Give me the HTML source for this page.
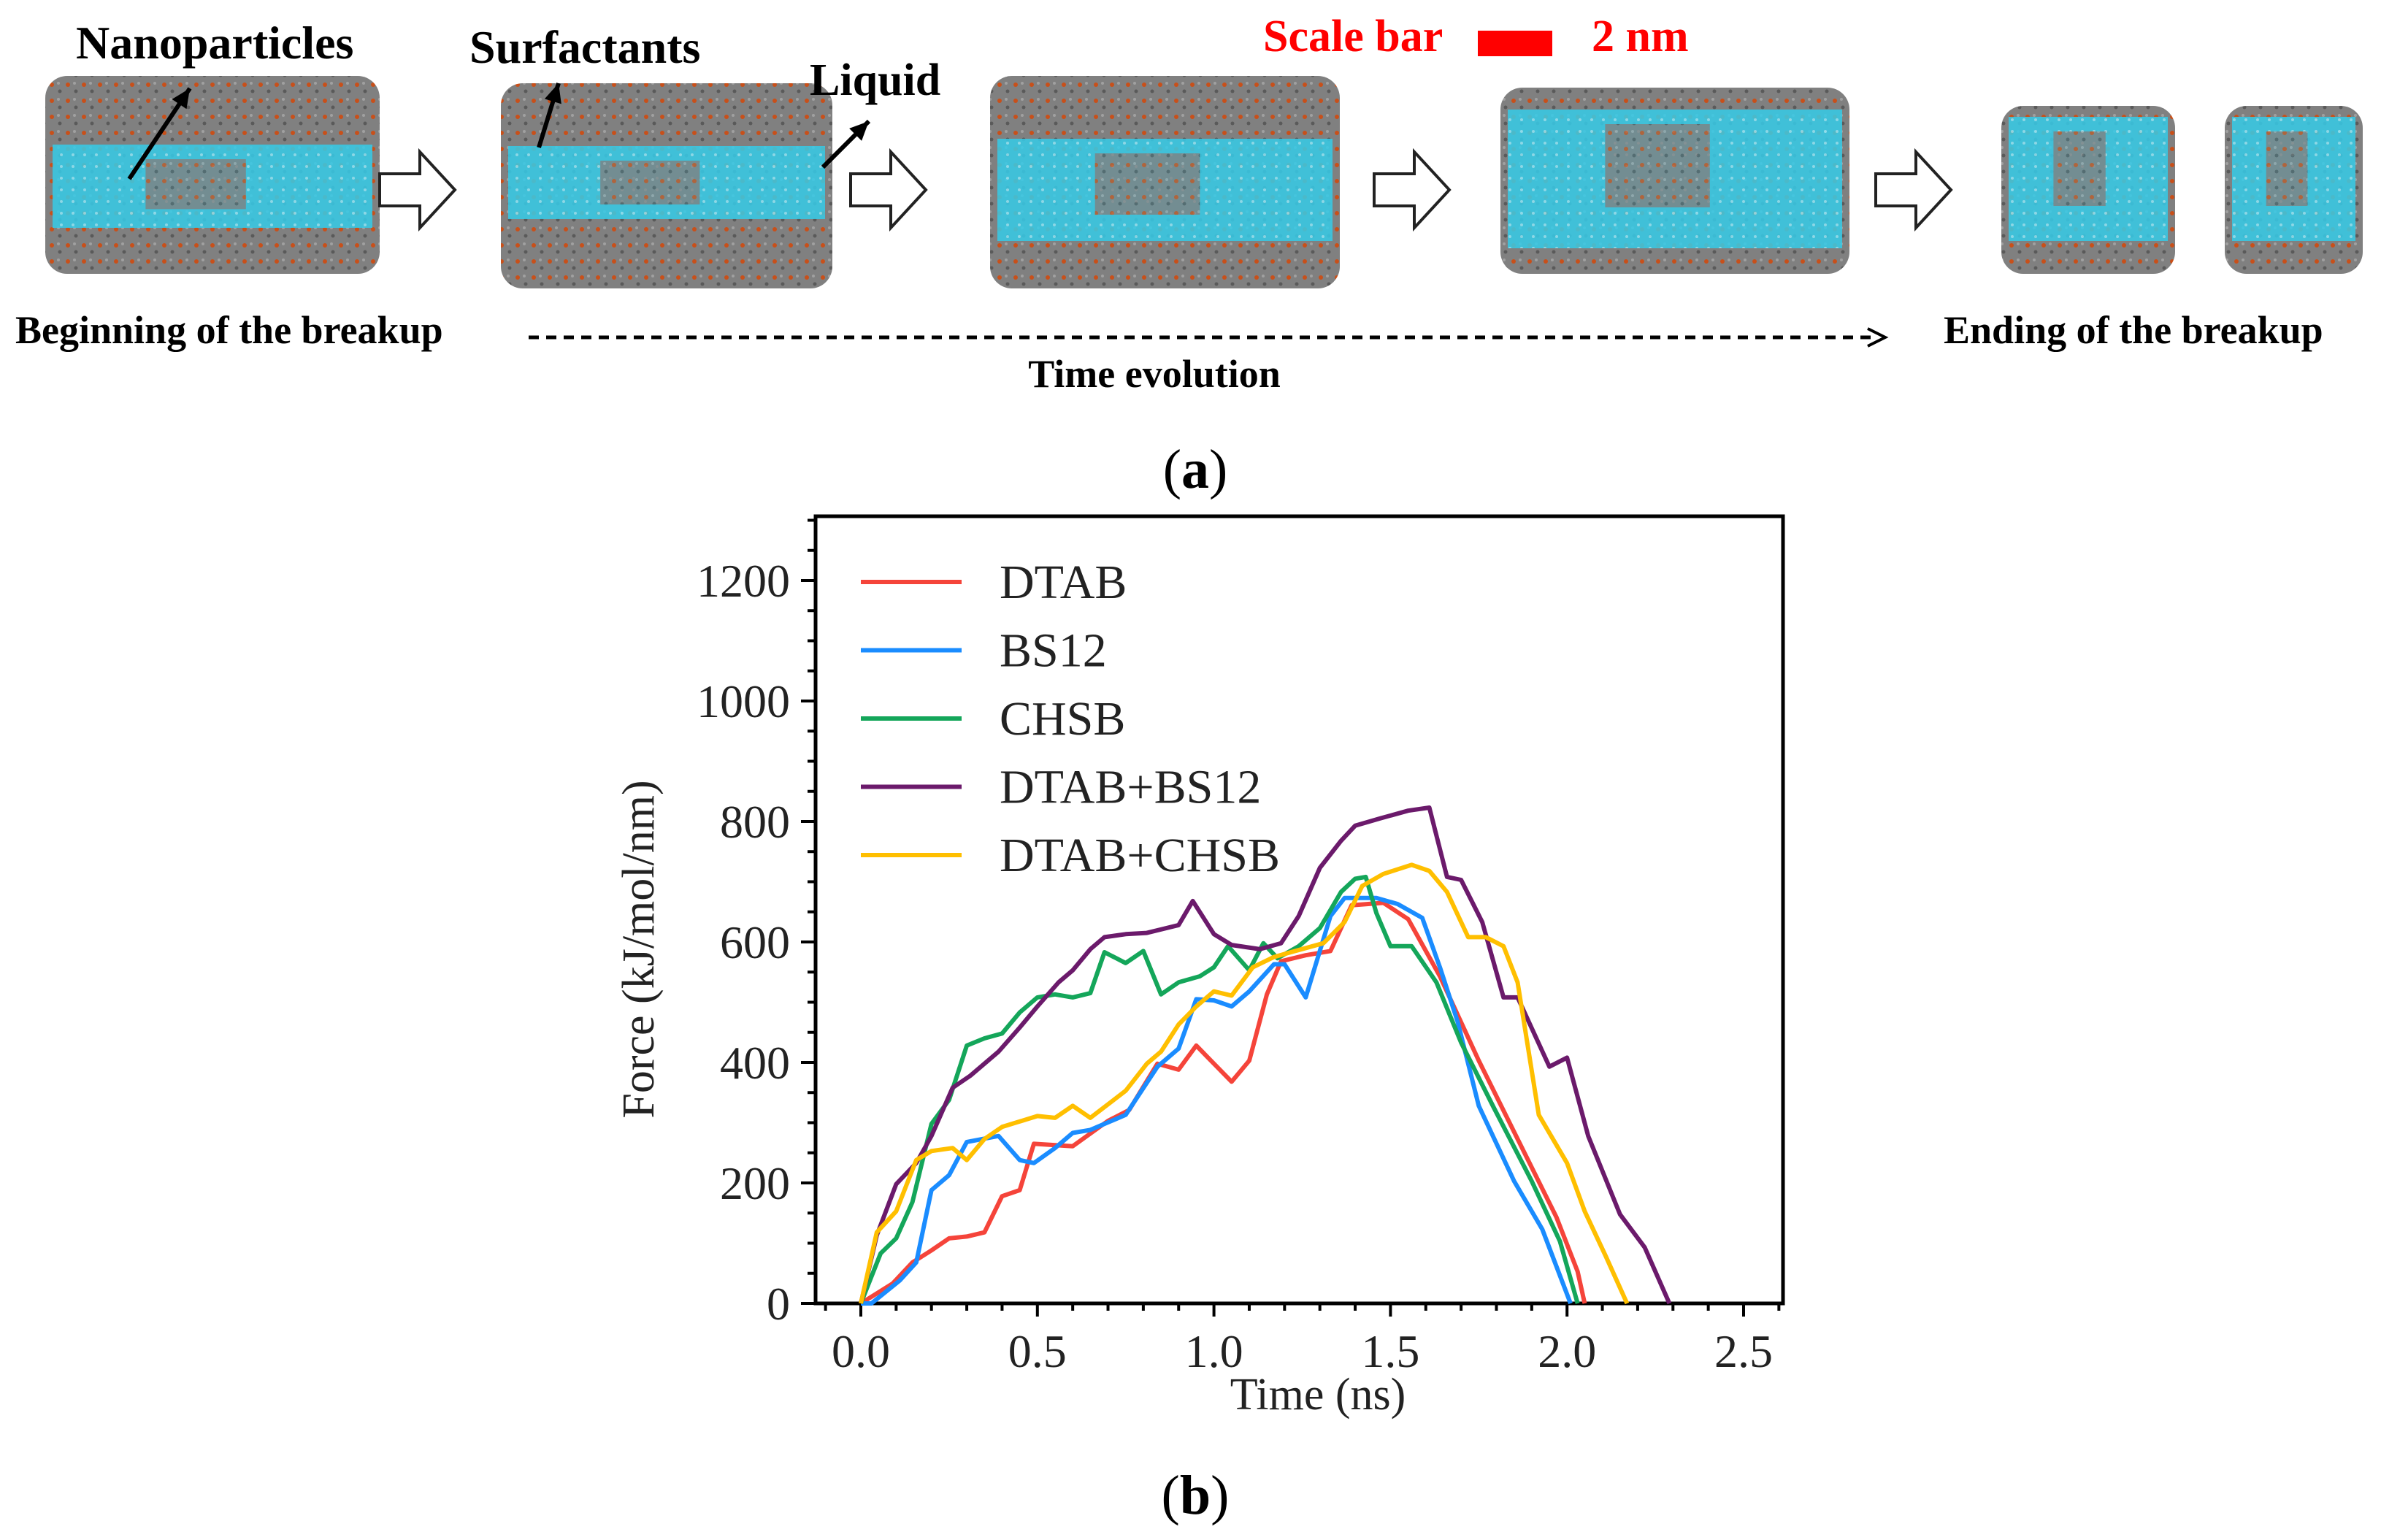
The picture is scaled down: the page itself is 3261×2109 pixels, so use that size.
<!DOCTYPE html>
<html><head><meta charset="utf-8">
<style>
html,body{margin:0;padding:0;background:#fff;}
svg{display:block;}
text{font-family:"Liberation Serif",serif;}
</style></head>
<body>
<svg id="fig" width="3261" height="2109" viewBox="0 0 3261 2109" xmlns="http://www.w3.org/2000/svg">
<defs>
<pattern id="mol" width="22" height="22" patternUnits="userSpaceOnUse">
<rect width="22" height="22" fill="#808080"/>
<circle cx="5" cy="6" r="3" fill="#c8501a"/>
<circle cx="16" cy="15" r="2.5" fill="#5a5a5a"/>
<circle cx="14" cy="4" r="2" fill="#a0a0a0"/>
</pattern>
<pattern id="liq" width="16" height="16" patternUnits="userSpaceOnUse">
<rect width="16" height="16" fill="#35cbe8"/>
<circle cx="4" cy="4" r="2" fill="#8fe6f7"/>
</pattern>
</defs>
<g id="panel-a"></g>
<g id="panel-b"></g>
</svg>
<script>
// ---- chart data ----
const seriesNames = ["DTAB","BS12","CHSB","DTAB+BS12","DTAB+CHSB"];
const seriesColors = ["#f5443a","#1a8cff","#14a65a","#6b1a6b","#ffbf00"];
const dtabT = [0,0.09,0.146,0.2,0.25,0.3,0.35,0.4,0.45,0.49,0.6,0.7,0.76,0.84,0.9,0.95,1.0,1.05,1.1,1.15,1.19,1.26,1.33,1.39,1.48,1.55,1.64,1.75,1.86,1.97,2.03,2.05];
const dtabF = [0,33,68,88,108,111,118,178,188,265,261,303,321,398,388,428,398,368,403,513,568,578,585,661,665,638,543,403,273,143,53,0];
const bs12T = [0,0.03,0.11,0.157,0.2,0.25,0.3,0.39,0.45,0.49,0.55,0.6,0.65,0.75,0.84,0.9,0.95,1.0,1.05,1.1,1.17,1.2,1.26,1.33,1.37,1.46,1.52,1.59,1.64,1.69,1.75,1.85,1.93,2.01];
const bs12F = [0,0,38,68,188,213,268,278,238,233,258,283,288,313,393,423,505,503,493,518,563,563,508,643,673,673,663,640,558,468,328,203,123,0];
const chsbT = [0,0.056,0.1,0.146,0.2,0.25,0.3,0.35,0.4,0.45,0.5,0.55,0.6,0.65,0.69,0.75,0.8,0.85,0.9,0.96,1.0,1.04,1.1,1.14,1.18,1.24,1.3,1.36,1.4,1.43,1.46,1.5,1.56,1.63,1.7,1.79,1.9,1.98,2.03];
const chsbF = [0,83,108,168,298,338,428,440,448,483,508,513,508,515,583,565,585,513,533,543,558,593,553,598,573,593,623,683,705,708,648,593,593,533,433,328,203,103,0];
const dbT = [0,0.045,0.1,0.157,0.2,0.26,0.31,0.39,0.45,0.5,0.56,0.6,0.65,0.69,0.75,0.81,0.9,0.94,1.0,1.05,1.13,1.19,1.24,1.3,1.36,1.4,1.47,1.55,1.61,1.66,1.7,1.76,1.82,1.86,1.95,2.0,2.06,2.15,2.22,2.29];
const dbF = [0,113,198,233,278,358,378,418,458,493,533,553,588,608,613,615,628,668,613,595,588,598,643,723,768,793,805,818,823,708,703,633,508,508,393,408,278,148,93,0];
const dcT = [0,0.045,0.1,0.157,0.2,0.26,0.3,0.35,0.4,0.5,0.55,0.6,0.65,0.75,0.81,0.85,0.9,0.95,1.0,1.05,1.11,1.17,1.23,1.31,1.37,1.42,1.48,1.56,1.61,1.66,1.72,1.77,1.82,1.86,1.92,2.0,2.05,2.11,2.17];
const dcF = [0,118,153,238,253,258,238,273,293,311,308,328,308,353,398,418,463,493,518,511,558,575,585,598,633,693,713,728,718,683,608,608,593,533,313,233,153,78,0];
const xTicks = ["0.0","0.5","1.0","1.5","2.0","2.5"];
const yTicks = ["0","200","400","600","800","1000","1200"];

const NS = "http://www.w3.org/2000/svg";
function mk(tag, attrs, parent, txt){
  const e = document.createElementNS(NS, tag);
  for (const k in attrs) e.setAttribute(k, attrs[k]);
  if (txt !== undefined) e.textContent = txt;
  parent.appendChild(e);
  return e;
}

// ---- panel a ----
const pa = document.getElementById('panel-a');
const snaps = [[62,104,458,271,198,312],[686,114,454,281,200,300],[1356,104,479,291,190,330],[2055,120,478,255,150,340],[2741,145,238,230,160,330],[3047,145,189,230,160,330]];
snaps.forEach((s,i)=>{
  const g = mk('g',{},pa);
  
  
  mk('rect',{x:s[0],y:s[1],width:s[2],height:s[3],rx:30,fill:'url(#mol)'},g);
  mk('rect',{x:s[0]+10,y:s[4],width:s[2]-20,height:s[5]-s[4],fill:'url(#liq)',opacity:0.85},g);
  mk('rect',{x:s[0]+s[2]*0.3,y:s[4]+20,width:s[2]*0.3,height:(s[5]-s[4])*0.6,fill:'url(#mol)',opacity:0.8},g);
});
[520,1165,1882,2569].forEach((x,i)=>{
  const a = mk('path',{d:`M${x} 238 h55 v-30 l48 52 l-48 52 v-30 h-55 z`,fill:'#fff',stroke:'#222','stroke-width':4},pa);
  
  
});
function lbl(x,y,t,sz,name,fill,anchor){
  const e = mk('text',{x:x,y:y,'font-size':sz,'font-weight':'bold',fill:fill||'#000','text-anchor':anchor||'start'},pa,t);
  
  
  return e;
}
lbl(104,80,'Nanoparticles',64,'nanoparticles-label');
lbl(643,86,'Surfactants',64,'surfactants-label');
lbl(1109,130,'Liquid',62,'liquid-label');
lbl(1730,70,'Scale bar',62,'scale-bar-label','#ff0000');
const sb = mk('rect',{x:2024,y:42,width:102,height:35,fill:'#ff0000'},pa);


lbl(2180,70,'2 nm',62,'scale-bar-value','#ff0000');
lbl(21,470,'Beginning  of the breakup',54,'beginning-label');
lbl(2662,470,'Ending  of the breakup',54,'ending-label');
lbl(1581,530,'Time  evolution',54,'time-evolution-label','#000','middle');
[[177,245,260,121],[738,202,765,114],[1127,229,1190,166]].forEach((p,i)=>{
  const l = mk('line',{x1:p[0],y1:p[1],x2:p[2],y2:p[3],stroke:'#000','stroke-width':6},pa);
  
  
  const ang=Math.atan2(p[3]-p[1],p[2]-p[0]);
  const hx=p[2],hy=p[3],L=26,W=12;
  const bx=hx-L*Math.cos(ang),by=hy-L*Math.sin(ang);
  mk('polygon',{points:`${hx},${hy} ${bx+W*Math.sin(ang)},${by-W*Math.cos(ang)} ${bx-W*Math.sin(ang)},${by+W*Math.cos(ang)}`,fill:'#000'},pa);
});
const dl = mk('line',{x1:724,y1:462,x2:2570,y2:462,stroke:'#000','stroke-width':5,'stroke-dasharray':'14 10'},pa);


mk('polyline',{points:'2558,450 2582,462 2558,474',fill:'none',stroke:'#000','stroke-width':4},pa);
const la = mk('text',{x:1637,y:668,'font-size':76,'text-anchor':'middle'},pa);


la.innerHTML='(<tspan font-weight="bold">a</tspan>)';

// ---- panel b ----
const pb = document.getElementById('panel-b');
const L0=1117,R0=2442,T0=707,B0=1785;
const X = v => 1179 + v*(2388-1179)/2.5;
const Y = v => 1785 - v*(1785-795)/1200;
const ax = mk('rect',{x:L0,y:T0,width:R0-L0,height:B0-T0,fill:'none',stroke:'#000','stroke-width':5},pb);


for(let v=-0.1; v<=2.61; v+=0.1){
  const vv=Math.round(v*10)/10;
  const major = Math.abs(vv*2-Math.round(vv*2))<1e-6;
  mk('line',{x1:X(vv),y1:B0,x2:X(vv),y2:B0+(major?18:10),stroke:'#000','stroke-width':4},pb);
}
for(let v=0; v<=1300; v+=50){
  const major = v%200===0;
  mk('line',{x1:L0,y1:Y(v),x2:L0-(major?20:11),y2:Y(v),stroke:'#000','stroke-width':4},pb);
}
xTicks.forEach(t=>{
  const e = mk('text',{x:X(parseFloat(t)),y:1872,'font-size':64,'text-anchor':'middle',fill:'#222'},pb,t);
  
  
});
yTicks.forEach(t=>{
  const e = mk('text',{x:1082,y:Y(parseFloat(t))+22,'font-size':64,'text-anchor':'end',fill:'#222'},pb,t);
  
  
});
const xt = mk('text',{x:1805,y:1930,'font-size':62,'text-anchor':'middle',fill:'#222'},pb,'Time (ns)');


const yt = mk('text',{x:0,y:0,'font-size':62,'text-anchor':'middle',fill:'#222',transform:'translate(895,1300) rotate(-90)'},pb,'Force  (kJ/mol/nm)');



const allT=[dtabT,bs12T,chsbT,dbT,dcT], allF=[dtabF,bs12F,chsbF,dbF,dcF];
allT.forEach((ts,i)=>{
  const pts = ts.map((t,j)=>X(t).toFixed(1)+','+Y(allF[i][j]).toFixed(1)).join(' ');
  const p = mk('polyline',{points:pts,fill:'none',stroke:seriesColors[i],'stroke-width':6,'stroke-linejoin':'round'},pb);
  
  
});
seriesNames.forEach((n,i)=>{
  const g = mk('g',{},pb);
  
  
  const y = 797 + i*93.5;
  mk('line',{x1:1179,y1:y,x2:1317,y2:y,stroke:seriesColors[i],'stroke-width':6},g);
  mk('text',{x:1369,y:y+22,'font-size':66,fill:'#222'},g,n);
});
const lb = mk('text',{x:1637,y:2073,'font-size':76,'text-anchor':'middle'},pb);


lb.innerHTML='(<tspan font-weight="bold">b</tspan>)';
</script>
</body></html>
